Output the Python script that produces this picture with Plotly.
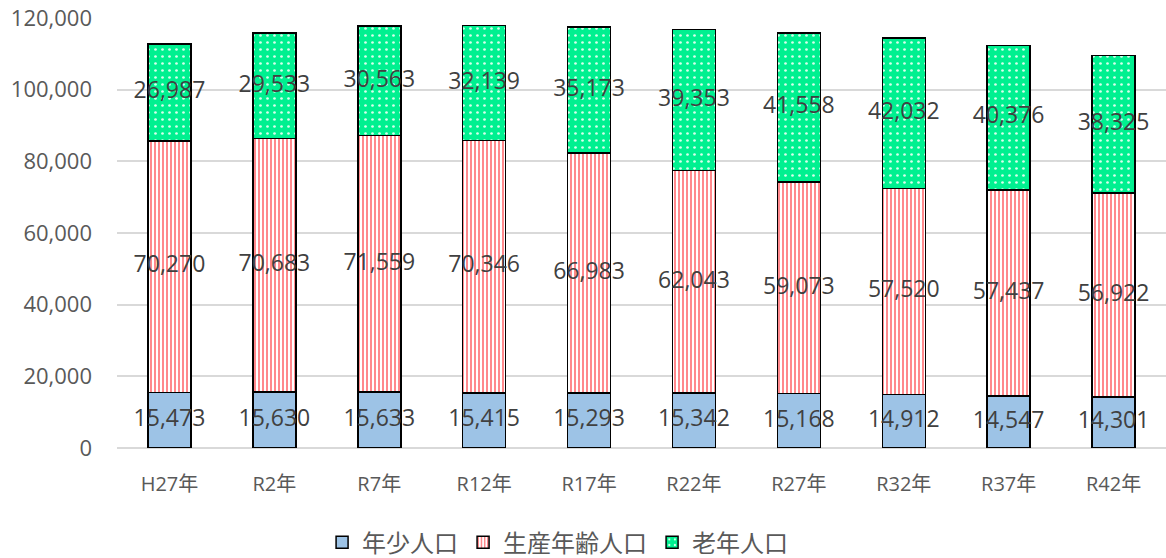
import plotly.graph_objects as go

categories = ["H27年", "R2年", "R7年", "R12年", "R17年", "R22年", "R27年", "R32年", "R37年", "R42年"]
young = [15473, 15630, 15633, 15415, 15293, 15342, 15168, 14912, 14547, 14301]
working = [70270, 70683, 71559, 70346, 66983, 62043, 59073, 57520, 57437, 56922]
elderly = [26987, 29533, 30563, 32139, 35173, 39353, 41558, 42032, 40376, 38325]
series_names = ["年少人口", "生産年齢人口", "老年人口"]
y_ticks = [0, 20000, 40000, 60000, 80000, 100000, 120000]

FONT = "Open Sans, Noto Sans CJK JP, sans-serif"
line = dict(color="black", width=1.5)

fig = go.Figure()
fig.add_trace(go.Bar(
    x=categories, y=young, name=series_names[0],
    marker=dict(color="#9DC3E6", line=line),
))
fig.add_trace(go.Bar(
    x=categories, y=working, name=series_names[1],
    marker=dict(color="white", line=line,
                pattern=dict(shape="|", fgcolor="#FF7C80", bgcolor="white",
                             size=4, solidity=0.45, fillmode="replace")),
))
fig.add_trace(go.Bar(
    x=categories, y=elderly, name=series_names[2],
    marker=dict(color="#00F090", line=line,
                pattern=dict(shape=".", fgcolor="#D8FFEC", bgcolor="#00F090",
                             size=7, solidity=0.12, fillmode="replace")),
))

# data labels centred in each segment
label_font = dict(family=FONT, size=23, color="#404040")
for vals, base in [
    (young, [0] * len(young)),
    (working, young),
    (elderly, [a + b for a, b in zip(young, working)]),
]:
    fig.add_trace(go.Scatter(
        x=categories,
        y=[b + v / 2 for b, v in zip(base, vals)],
        mode="text",
        text=[f"{v:,}" for v in vals],
        textfont=label_font,
        textposition="middle center",
        showlegend=False,
        hoverinfo="skip",
        cliponaxis=False,
    ))

fig.update_layout(
    barmode="stack",
    bargap=0.59,
    width=1166, height=558,
    margin=dict(l=117, r=0, t=18, b=110, autoexpand=False),
    plot_bgcolor="white",
    paper_bgcolor="white",
    font=dict(family=FONT, color="#595959"),
    legend=dict(
        orientation="h", x=0.42, xanchor="center", y=-0.22, yanchor="middle",
        font=dict(family=FONT, size=24, color="#595959"),
        traceorder="normal",
        itemwidth=30,
    ),
    xaxis=dict(
        tickfont=dict(family=FONT, size=20, color="#595959"),
        showline=False, ticks="", ticklabelstandoff=22, automargin=False,
    ),
    yaxis=dict(
        range=[0, 120000],
        tickvals=y_ticks,
        tickformat=",",
        tickfont=dict(family=FONT, size=22, color="#595959"),
        showgrid=True, gridcolor="#D9D9D9", gridwidth=1.5,
        zeroline=True, zerolinecolor="#D9D9D9", zerolinewidth=1.5,
        ticks="", ticklabelstandoff=24, automargin=False,
    ),
)

fig.write_html(
    "out.html",
    config={"displayModeBar": False},
    post_script="document.body.style.margin='0';document.body.style.overflow='hidden';",
)
